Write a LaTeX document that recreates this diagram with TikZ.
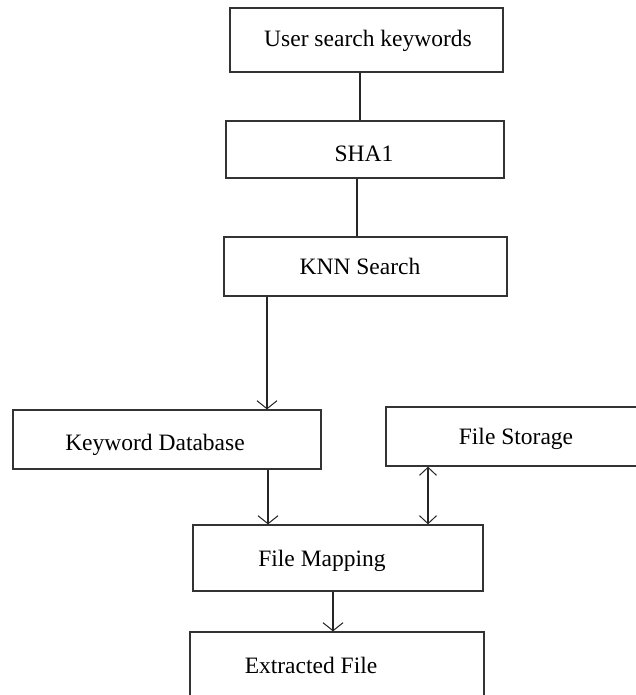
\documentclass[tikz,border=0pt]{standalone}
\usepackage{fontspec}
\setmainfont{Liberation Serif}
\usetikzlibrary{arrows.meta}
\begin{document}
\begin{tikzpicture}[x=1bp,y=-1bp,
  box/.style={draw=black!80,line width=1.3bp,rectangle,inner sep=0pt},
  txt/.style={inner sep=0pt,anchor=base,font=\fontsize{23.5bp}{28bp}\selectfont},
  link/.style={draw=black!85,line width=1.1bp},
  flow/.style={link,-{Straight Barb[length=8bp,width=20bp,line width=1bp]}},
  both/.style={link,{Straight Barb[length=8bp,width=17bp,line width=1bp]}-{Straight Barb[length=8bp,width=17bp,line width=1bp]}}]
\useasboundingbox (0,0) rectangle (636,695);
\clip (0,0) rectangle (636,695);
\fill[white] (0,0) rectangle (636,695);

% boxes
\node[box,minimum width=273bp,minimum height=64bp] (b1) at (366.5,40) {};
\node[box,minimum width=278bp,minimum height=57bp] (b2) at (365,149.5) {};
\node[box,minimum width=283bp,minimum height=59bp] (b3) at (365.5,266.5) {};
\node[box,minimum width=308bp,minimum height=59bp] (b4) at (167,439.5) {};
\node[box,minimum width=274bp,minimum height=59bp] (b5) at (523,436.5) {};
\node[box,minimum width=290bp,minimum height=66bp] (b6) at (338,558) {};
\node[box,minimum width=294bp,minimum height=88bp] (b7) at (337,676) {};

% labels
\node[txt] (t1) at (368,47) {User search keywords};
\node[txt] (t2) at (364,161) {SHA1};
\node[txt] (t3) at (360,274) {KNN Search};
\node[txt] (t4) at (155,450) {Keyword Database};
\node[txt] (t5) at (516,444) {File Storage};
\node[txt] (t6) at (322,566) {File Mapping};
\node[txt] (t7) at (311,673) {Extracted File};

% connector columns
\coordinate (x1) at (360,0);
\coordinate (x2) at (357,0);
\coordinate (x3) at (267,0);
\coordinate (x4) at (268,0);
\coordinate (x5) at (333,0);
\coordinate (x6) at (428,0);

% connectors
\draw[link] (b1.south -| x1) -- (b2.north -| x1);
\draw[link] (b2.south -| x2) -- (b3.north -| x2);
\draw[flow] (b3.south -| x3) -- (b4.north -| x3);
\draw[flow] (b4.south -| x4) -- (b6.north -| x4);
\draw[both] (b5.south -| x6) -- (b6.north -| x6);
\draw[flow] (b6.south -| x5) -- (b7.north -| x5);
\end{tikzpicture}
\end{document}
